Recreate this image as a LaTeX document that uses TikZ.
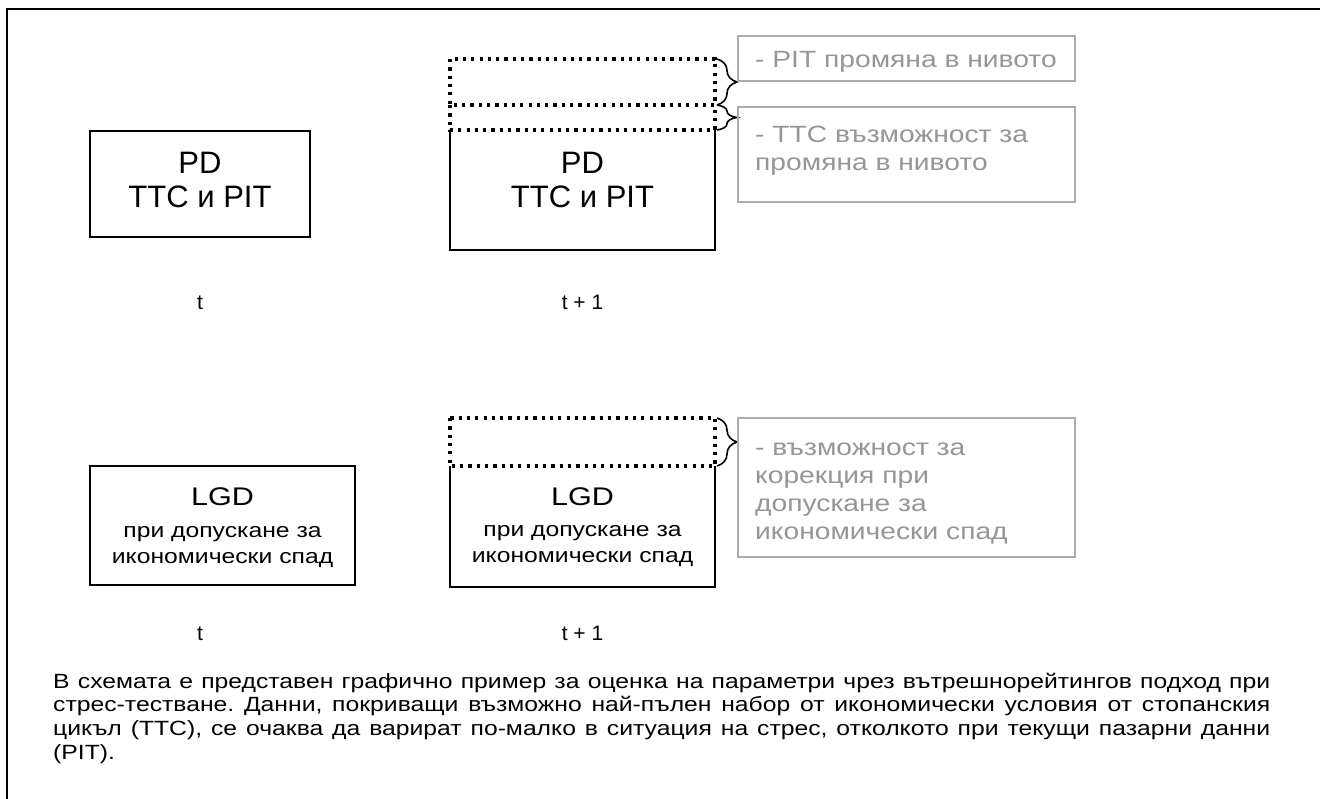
\documentclass[tikz,border=0pt]{standalone}
\usepackage{fontspec}
\setmainfont{Liberation Sans}
\newfontfamily\wide[FakeStretch=1.2]{Liberation Sans}
\usetikzlibrary{decorations.pathreplacing}
\definecolor{gtext}{RGB}{150,150,150}
\definecolor{gline}{RGB}{172,172,172}
\begin{document}
\frenchspacing
\begin{tikzpicture}[x=1pt,y=-1pt,
  frame/.style={line width=2pt},
  area/.style={inner sep=0pt, outer sep=0pt},
  solidbox/.style={area, draw=black, line width=1.6pt},
  solidline/.style={line width=1.6pt},
  dotline/.style={line width=3.2pt, dash pattern=on 3.2pt off 5.1pt},
  graybox/.style={area, draw=gline, line width=1.6pt},
  graytext/.style={text=gtext, font=\wide\fontsize{23.5}{28}\selectfont, align=left, anchor=base west, inner sep=0pt},
  bigtext/.style={font=\fontsize{31}{34}\selectfont, align=center, anchor=base, inner sep=0pt},
  lgdtitle/.style={font=\wide\fontsize{25.5}{30}\selectfont, anchor=base, inner sep=0pt},
  lgdsub/.style={font=\wide\fontsize{20.6}{26}\selectfont, align=center, anchor=base, inner sep=0pt},
  timetext/.style={font=\fontsize{21}{24}\selectfont, anchor=base, inner sep=0pt},
  paratext/.style={font=\wide\fontsize{20.6}{23.7}\selectfont, text width=1217pt, align=justify, anchor=base west, inner sep=0pt},
  bracestyle/.style={decorate, decoration={brace, amplitude=20pt}, line width=1.6pt},
]
\useasboundingbox (0,0) rectangle (1320,798);
\fill[white] (0,0) rectangle (1320,798);

% outer frame
\draw[frame] (1321,8.5) -- (7.3,8.5) -- (7.3,799);

% ---------- PD row ----------
\node[solidbox, minimum width=220pt, minimum height=106pt] (pd0) at (200,184) {};
\node[bigtext] (pd0t) at (200,207) {PD\\TTC и PIT};

\node[area, minimum width=265pt, minimum height=120pt] (pd1) at (582.5,190) {};
\draw[solidline] (pd1.north west) |- (pd1.south east) -- (pd1.north east);
\node[bigtext] (pd1t) at (582.5,207) {PD\\TTC и PIT};

\node[area, minimum width=265pt, minimum height=46pt] (dot1) at (582.5,82) {};
\node[area, minimum width=265pt, minimum height=25pt] (dot2) at (582.5,117.5) {};
\draw[dotline] (dot1.north west) rectangle (dot1.south east);
\draw[dotline] (dot2.north west) -- (dot2.south west) -- (dot2.south east) -- (dot2.north east);

\draw[bracestyle] ([xshift=2pt]dot1.north east) -- ([xshift=2pt]dot1.south east);
\draw[bracestyle] ([xshift=2pt]dot2.north east) -- ([xshift=2pt]dot2.south east);

\node[graybox, minimum width=337pt, minimum height=45pt] (g1) at (906.5,58.5) {};
\node[graytext] (g1t) at (755,67) {- PIT промяна в нивото};

\node[graybox, minimum width=337pt, minimum height=95pt] (g2) at (906.5,154.5) {};
\node[graytext] (g2t) at (755,170) {- TTC възможност за\\промяна в нивото};

\node[timetext] (t0) at (200,309) {t};
\node[timetext] (t1) at (582.5,309) {t + 1};

% ---------- LGD row ----------
\node[solidbox, minimum width=265pt, minimum height=119pt] (lgd0) at (222.5,525.5) {};
\node[lgdtitle] (lgd0t) at (222.5,505) {LGD};
\node[lgdsub] (lgd0s) at (222.5,563) {при допускане за\\икономически спад};

\node[area, minimum width=265pt, minimum height=121pt] (lgd1) at (582.5,526.5) {};
\draw[solidline] (lgd1.north west) |- (lgd1.south east) -- (lgd1.north east);
\node[lgdtitle] (lgd1t) at (582.5,505) {LGD};
\node[lgdsub] (lgd1s) at (582.5,562) {при допускане за\\икономически спад};

\node[area, minimum width=265pt, minimum height=48pt] (dot3) at (582.5,442) {};
\draw[dotline] (dot3.north west) rectangle (dot3.south east);
\draw[bracestyle] ([xshift=2pt]dot3.north east) -- ([xshift=2pt]dot3.south east);

\node[graybox, minimum width=337pt, minimum height=139pt] (g3) at (906.5,487.5) {};
\node[graytext] (g3t) at (755,539) {- възможност за\\корекция при\\допускане за\\икономически спад};

\node[timetext] (t2) at (200,640) {t};
\node[timetext] (t3) at (582.5,640) {t + 1};

% ---------- note ----------
\node[paratext] (note) at (53,688) {\hyphenpenalty=10000 В схемата е представен графично пример за оценка на параметри чрез вътрешнорейтингов подход при\linebreak стрес-тестване. Данни, покриващи възможно най-пълен набор от икономически условия от стопанския\linebreak цикъл (TTC), се очаква да варират по-малко в ситуация на стрес, отколкото при текущи пазарни данни\linebreak (PIT).};
\end{tikzpicture}
\end{document}
